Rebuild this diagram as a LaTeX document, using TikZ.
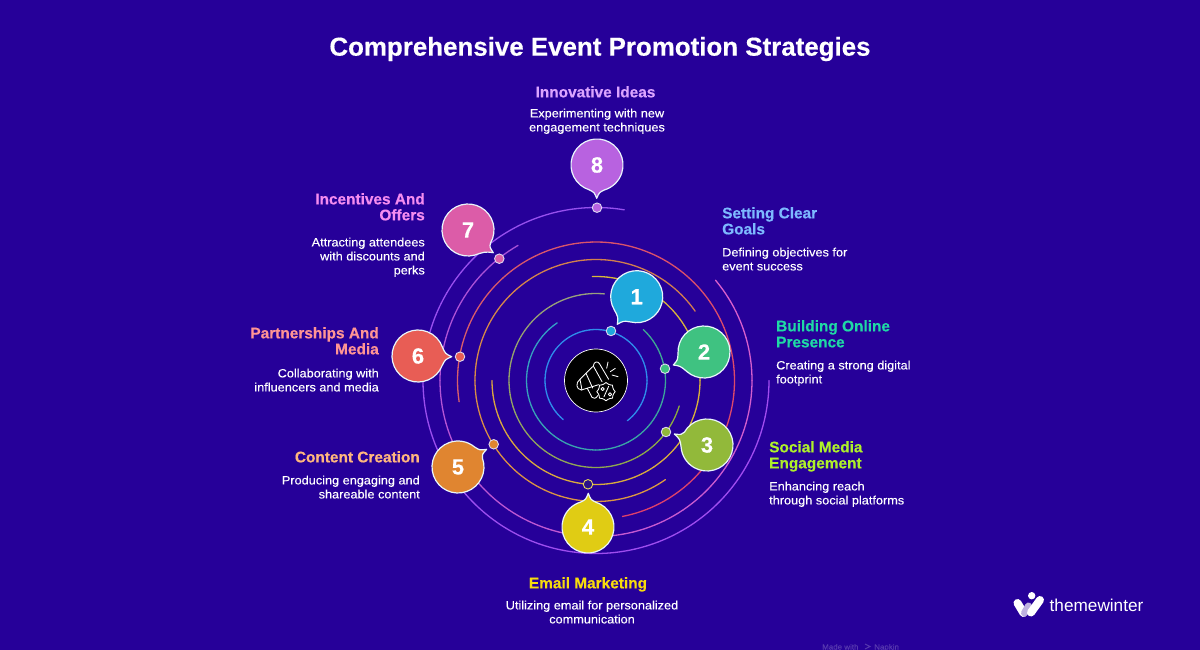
\documentclass[tikz,border=0pt]{standalone}
\usepackage{fontspec}
\setmainfont[FakeStretch=1.06,FakeBold=0.15]{Liberation Sans}
\newfontfamily\hfont[BoldFeatures={FakeBold=0.35}]{Liberation Sans}
\usetikzlibrary{calc}
\definecolor{bgc}{HTML}{260099}
\definecolor{c1}{HTML}{1FA9DC}\definecolor{c2}{HTML}{3FC281}\definecolor{c3}{HTML}{92B93A}\definecolor{c4}{HTML}{E0CC14}
\definecolor{c5}{HTML}{E08530}\definecolor{c6}{HTML}{E85D55}\definecolor{c7}{HTML}{DC5CA8}\definecolor{c8}{HTML}{B862E0}
\definecolor{h1}{HTML}{7DB9FF}\definecolor{h2}{HTML}{1FD9A5}\definecolor{h3}{HTML}{AEF02A}\definecolor{h4}{HTML}{F7DC0C}
\definecolor{h5}{HTML}{FFB67E}\definecolor{h6}{HTML}{FF9494}\definecolor{h7}{HTML}{F58CF0}\definecolor{h8}{HTML}{DBA4FF}
\tikzset{
  head/.style={inner sep=0pt,font=\hfont\fontsize{15.4}{16}\selectfont\bfseries},
  desc/.style={inner sep=0pt,text=white,font=\fontsize{12}{14}\selectfont},
  ringline/.style={line width=1.3pt,line cap=round},
  dotmark/.style={circle,draw=white!85!bgc,line width=0.9pt,minimum size=9.5pt,inner sep=0pt},
  bubble/.style={draw=white!90!c1,line width=1.2pt,line join=round},
  bubnum/.style={inner sep=0pt,text=white,font=\hfont\fontsize{22}{24}\selectfont\bfseries},
  iconline/.style={draw=white,line width=0.85pt,line cap=round,line join=round},
}
% radius, start, end (angles measured visually, counter-clockwise), colours
\newcommand\gring[5]{%
  \definecolor{ringA}{HTML}{#4}\definecolor{ringB}{HTML}{#5}%
  \pgfmathtruncatemacro\nseg{max(2,abs(#3-#2)/4)}%
  \foreach \i in {1,...,\nseg}{%
    \pgfmathsetmacro\sa{-(#2+(#3-#2)*((\i-1)/\nseg))}%
    \pgfmathsetmacro\ea{-(#2+(#3-#2)*(\i/\nseg))}%
    \pgfmathtruncatemacro\pc{100*((\i-1)/(\nseg-1))}%
    \draw[ringline,draw=ringB!\pc!ringA] (ctr) ++(\sa:#1) arc[start angle=\sa,end angle=\ea,radius=#1];
  }%
}
% name, cx, cy, tipx, tipy, colour, number, tail offsets on either side of the tip direction
\newcommand\bub[9]{%
  \pgfmathsetmacro\ta{atan2(#5-#3,#4-#2)}%
  \pgfmathsetmacro\tb{\ta+#8}\pgfmathsetmacro\te{\ta+360-#9}%
  \pgfmathsetmacro\ca{\ta-0.3*#9}\pgfmathsetmacro\cb{\ta+0.3*#8}%
  \draw[bubble,fill=#6] (#2,#3) ++(\tb:26) arc[start angle=\tb,end angle=\te,radius=26]
    .. controls ($(#2,#3)+(\ca:27.5)$) .. (#4,#5)
    .. controls ($(#2,#3)+(\cb:27.5)$) .. cycle;
  \node[bubnum] (#1) at (#2,#3) {#7};
}
\begin{document}
\begin{tikzpicture}[x=1pt,y=-1pt]
\fill[bgc] (0,0) rectangle (1200,650);
\useasboundingbox (0,0) rectangle (1200,650);
\coordinate (ctr) at (596,380.5);

\node[inner sep=0pt,text=white,font=\hfont\fontsize{25.9}{30}\selectfont\bfseries] (title) at (600,49) {Comprehensive Event Promotion Strategies};

% rings
\gring{51}{-52}{230}{2E8CEB}{2E8CEB}
\gring{69.5}{47}{-236}{3EA890}{359FC8}
\gring{87}{-17}{-275.5}{8CAA40}{9AA080}
\gring{104}{180}{452}{D9A53F}{D9B83A}
\gring{121}{-55}{-325}{DD9A40}{D07A50}
\gring{138.5}{-79}{188.8}{E0406A}{D8606A}
\gring{156}{40}{-240}{DC60CC}{A850D8}
\gring{173}{0}{-279.4}{A24CF0}{9650EE}

% dots
\definecolor{dk}{HTML}{2A1088}
\node[dotmark,fill=c1] (d1) at (611,331) {};
\node[dotmark,fill=c2] (d2) at (665,368.7) {};
\node[dotmark,fill=c3] (d3) at (666,432) {};
\node[dotmark,fill=dk,draw=c4!70!white] (d4) at (588,484.3) {};
\node[dotmark,fill=c5] (d5) at (493.7,444.3) {};
\node[dotmark,fill=c6] (d6) at (460,356.7) {};
\node[dotmark,fill=c7] (d7) at (499.3,258.7) {};
\node[dotmark,fill=c8] (d8) at (597,207.7) {};

% bubbles
\bub{b1}{636.7}{296.7}{617.3}{324.3}{c1}{1}{24}{21}
\bub{b2}{704}{352}{673.3}{365}{c2}{2}{20}{26}
\bub{b3}{707}{445}{674.3}{434}{c3}{3}{11}{23}
\bub{b4}{588}{527}{588.3}{493.3}{c4}{4}{17}{17}
\bub{b5}{458}{467}{486.7}{449.3}{c5}{5}{12}{19}
\bub{b6}{418}{356}{451.7}{356.7}{c6}{6}{20}{20}
\bub{b7}{468}{230}{493.3}{252.7}{c7}{7}{33}{12}
\bub{b8}{597}{165}{596.7}{198.3}{c8}{8}{17}{17}

% centre icon
\node[circle,fill=black,draw=white,line width=0.7pt,minimum size=63pt,inner sep=0pt] (hub) at (ctr) {};
\begin{scope}[shift={(556,340)},x=0.3333pt,y=-0.3333pt,iconline]
  \draw (112,78) .. controls (113,64) and (126,62) .. (131,72) -- (158,118);
  \draw (112,78) -- (138,125);
  \draw (110,80) -- (72,118);
  \draw (72,118) .. controls (58,128) and (60,148) .. (76,150);
  \draw (76,150) -- (128,134);
  \draw (72,118) -- (78,150);
  \draw (90,100) -- (110,144);
  \draw (94,145) -- (108,172) .. controls (112,178) and (120,176) .. (126,166);
  \draw[fill=black] plot[smooth cycle,domain=0:345,samples=24] ({150+(25+2.5*cos(8*\x))*cos(\x)},{155+(25+2.5*cos(8*\x))*sin(\x)});
  \draw (144,170) -- (158,139);
  \draw (140,147) circle[radius=5];
  \draw (162,163) circle[radius=5];
  \draw (152,85) -- (156,66);
  \draw (163,95) -- (178,85);
  \draw (168,105) -- (186,110);
\end{scope}

% labels
\node[head,text=h1,anchor=north west,align=left] (t1) at (722,207) {Setting Clear\\Goals};
\node[desc,anchor=north west,align=left] (s1) at (722,247.5) {Defining objectives for\\event success};
\node[head,text=h2,anchor=north west,align=left] (t2) at (776,320) {Building Online\\Presence};
\node[desc,anchor=north west,align=left] (s2) at (776,360.5) {Creating a strong digital\\footprint};
\node[head,text=h3,anchor=north west,align=left] (t3) at (769,441) {Social Media\\Engagement};
\node[desc,anchor=north west,align=left] (s3) at (769,481.5) {Enhancing reach\\through social platforms};
\node[head,text=h4,anchor=north,align=center] (t4) at (588,577) {Email Marketing};
\node[desc,anchor=north,align=center] (s4) at (592,600.5) {Utilizing email for personalized\\communication};
\node[head,text=h5,anchor=north east,align=right] (t5) at (420,451) {Content Creation};
\node[desc,anchor=north east,align=right] (s5) at (420,475.5) {Producing engaging and\\shareable content};
\node[head,text=h6,anchor=north east,align=right] (t6) at (379,327) {Partnerships And\\Media};
\node[desc,anchor=north east,align=right] (s6) at (379,368.5) {Collaborating with\\influencers and media};
\node[head,text=h7,anchor=north east,align=right] (t7) at (425,193) {Incentives And\\Offers};
\node[desc,anchor=north east,align=right] (s7) at (425,237.5) {Attracting attendees\\with discounts and\\perks};
\node[head,text=h8,anchor=north,align=center] (t8) at (595.5,86) {Innovative Ideas};
\node[desc,anchor=north,align=center] (s8) at (597,108.5) {Experimenting with new\\engagement techniques};

% logo
\draw[white,line width=8pt,line cap=round] (1017.5,603) -- (1023.5,613);
\draw[white!70!bgc,line width=7pt,line cap=round] (1024.5,613) -- (1028.5,606);
\draw[white,line width=8pt,line cap=round] (1031,612.5) -- (1040,600);
\fill[white] (1031.7,595.7) circle[radius=3.7];
\node[inner sep=0pt,anchor=base west,text=white,font=\hfont\fontsize{17.2}{20}\selectfont] (logo) at (1049.5,611.5) {themewinter};

% watermark
\node[inner sep=0pt,anchor=base west,text=white!22!bgc,font=\fontsize{7.5}{9}\selectfont] (mk1) at (822,649.5) {Made with};
\node[inner sep=0pt,anchor=base west,text=white!22!bgc,font=\fontsize{7.5}{9}\selectfont] (mk2) at (874,649.5) {Napkin};
\draw[white!22!bgc,line width=1pt] (865,644) -- (870,646.5) -- (865,649);
\end{tikzpicture}
\end{document}
